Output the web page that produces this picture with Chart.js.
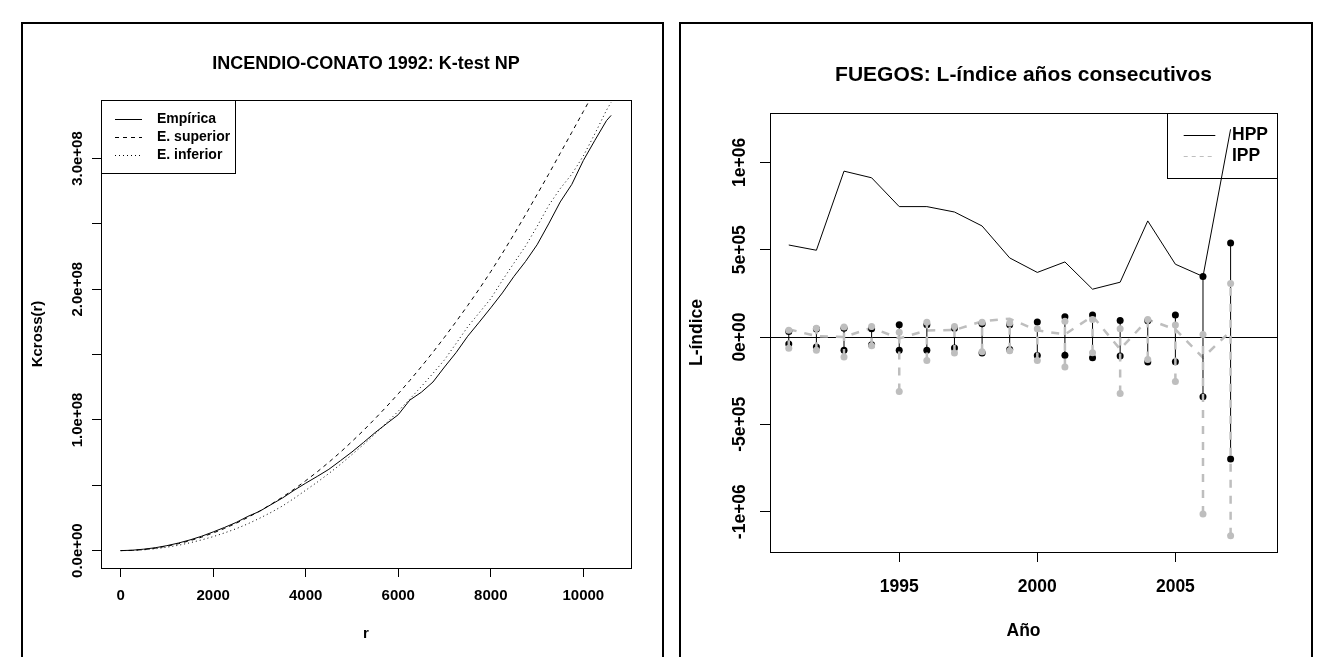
<!DOCTYPE html>
<html><head><meta charset="utf-8">
<script src="https://cdn.jsdelivr.net/npm/chart.js@4.4.1/dist/chart.umd.min.js"></script>
<style>
html,body{margin:0;padding:0;background:#fff;overflow:hidden;width:1330px;height:657px}
#c1{position:absolute;left:0;top:0}
#c2{position:absolute;left:665px;top:0}
.fig{position:absolute;border:2px solid #000;box-sizing:border-box}
</style></head><body>
<div class="fig" style="left:21px;top:22px;width:643px;height:700px"></div>
<div class="fig" style="left:679px;top:22px;width:634px;height:700px"></div>
<canvas id="c1" width="665" height="657"></canvas>
<canvas id="c2" width="665" height="657"></canvas>
<script>
// ---------- Left panel data (K-cross function) ----------
const rValues = [0,250,500,750,1000,1250,1500,1750,2000,2250,2500,2750,3000,3250,3500,3750,4000,4250,4500,4750,5000,5250,5500,5750,6000,6250,6500,6750,7000,7250,7500,7750,8000,8250,8500,8750,9000,9250,9500,9750,10000,10250,10500,10600];
const kEmpirica = [0,0.003e8,0.011e8,0.022e8,0.038e8,0.058e8,0.082e8,0.110e8,0.143e8,0.178e8,0.216e8,0.262e8,0.300e8,0.352e8,0.403e8,0.462e8,0.516e8,0.568e8,0.622e8,0.688e8,0.755e8,0.828e8,0.903e8,0.972e8,1.040e8,1.152e8,1.212e8,1.290e8,1.405e8,1.515e8,1.640e8,1.748e8,1.858e8,1.972e8,2.098e8,2.212e8,2.340e8,2.500e8,2.668e8,2.802e8,2.985e8,3.140e8,3.290e8,3.330e8];
const kSuperior = [0,0.002e8,0.008e8,0.019e8,0.034e8,0.053e8,0.076e8,0.103e8,0.135e8,0.170e8,0.210e8,0.254e8,0.302e8,0.354e8,0.410e8,0.470e8,0.535e8,0.603e8,0.676e8,0.753e8,0.835e8,0.920e8,1.010e8,1.103e8,1.200e8,1.302e8,1.408e8,1.518e8,1.633e8,1.752e8,1.875e8,2.002e8,2.135e8,2.275e8,2.420e8,2.570e8,2.725e8,2.880e8,3.040e8,3.200e8,3.360e8,3.520e8,3.680e8,3.750e8];
const kInferior = [0,0.001e8,0.006e8,0.014e8,0.026e8,0.041e8,0.060e8,0.082e8,0.107e8,0.136e8,0.168e8,0.205e8,0.247e8,0.292e8,0.342e8,0.400e8,0.462e8,0.524e8,0.590e8,0.660e8,0.735e8,0.812e8,0.893e8,0.978e8,1.067e8,1.160e8,1.256e8,1.356e8,1.460e8,1.585e8,1.712e8,1.820e8,1.928e8,2.068e8,2.200e8,2.330e8,2.480e8,2.640e8,2.770e8,2.880e8,3.020e8,3.190e8,3.370e8,3.430e8];
const leftXTicks = [0,2000,4000,6000,8000,10000];
const leftXTickLabels = ['0','2000','4000','6000','8000','10000'];
const leftYTicks = [0,0.5e8,1.0e8,1.5e8,2.0e8,2.5e8,3.0e8];
const leftYTickLabels = ['0.0e+00','','1.0e+08','','2.0e+08','','3.0e+08'];
const leftLegendLabels = ['Empírica','E. superior','E. inferior'];

// ---------- Right panel data (L-index by year) ----------
const years = [1991,1992,1993,1994,1995,1996,1997,1998,1999,2000,2001,2002,2003,2004,2005,2006,2007];
const hpp = [527000,497000,950000,912000,747000,747000,716000,636000,453000,370000,430000,274000,314000,665000,417000,347000,1190000];
const ipp = [45000,5000,0,53000,-8000,38000,40000,90000,105000,38000,15000,120000,-70000,100000,44000,-118000,34000];
const hppUpper = [32000,46000,51000,48000,70000,70000,51000,76000,70000,86000,116000,126000,95000,93000,126000,347000,538000];
const hppLower = [-40000,-57000,-76000,-44000,-76000,-76000,-63000,-91000,-72000,-105000,-104000,-118000,-109000,-143000,-141000,-342000,-698000];
const ippUpper = [39000,50000,57000,61000,27000,84000,61000,84000,80000,47000,91000,101000,48000,101000,69000,15000,306000];
const ippLower = [-64000,-75000,-114000,-50000,-312000,-135000,-91000,-84000,-78000,-135000,-172000,-90000,-324000,-128000,-255000,-1014000,-1138000];
const rightXTicks = [1995,2000,2005];
const rightXTickLabels = ['1995','2000','2005'];
const rightYTicks = [-1e6,-5e5,0,5e5,1e6];
const rightYTickLabels = ['-1e+06','-5e+05','0e+00','5e+05','1e+06'];
const rightLegendLabels = ['HPP','IPP'];

const FONT = "'Liberation Sans', Arial, Helvetica, sans-serif";
Chart.defaults.font.family = FONT;
Chart.defaults.font.weight = 'bold';
Chart.defaults.color = '#000';

const GREY = '#bebebe';

const framePlugin = {
  id: 'frame',
  afterDatasetsDraw(chart) {
    const a = chart.chartArea, c = chart.ctx;
    c.save();
    c.strokeStyle = '#000'; c.lineWidth = 1; c.setLineDash([]);
    const l = Math.round(a.left), t = Math.round(a.top), r = Math.round(a.right), b = Math.round(a.bottom);
    c.strokeRect(l + 0.5, t + 0.5, r - l, b - t);
    c.restore();
  }
};

function makeLegend(cfg) {
  return {
    id: 'rLegend' + cfg.name,
    afterDraw(chart) {
      const a = chart.chartArea, c = chart.ctx;
      const x0 = Math.round(cfg.corner === 'right' ? a.right - cfg.w : a.left);
      const y0 = Math.round(a.top);
      c.save();
      c.strokeStyle = '#000'; c.lineWidth = 1; c.setLineDash([]);
      c.strokeRect(x0 + 0.5, y0 + 0.5, cfg.w, cfg.h);
      c.font = 'bold ' + cfg.size + 'px ' + FONT;
      c.textBaseline = 'middle'; c.textAlign = 'left';
      cfg.items.forEach((it, i) => {
        const y = y0 + cfg.first + i * cfg.step;
        c.strokeStyle = it.color; c.lineWidth = it.width; c.setLineDash(it.dash);
        c.beginPath();
        c.moveTo(x0 + cfg.l1, Math.round(y) + 0.5);
        c.lineTo(x0 + cfg.l2, Math.round(y) + 0.5);
        c.stroke();
        c.setLineDash([]);
        c.fillStyle = '#000';
        c.fillText(it.label, x0 + cfg.tx, y);
      });
      c.restore();
    }
  };
}

function xy(xs, ys) { return xs.map((x, i) => ({x: x, y: ys[i]})); }

// ---------------- LEFT CHART ----------------
new Chart(document.getElementById('c1'), {
  type: 'line',
  data: {
    datasets: [
      {label: leftLegendLabels[0], data: xy(rValues, kEmpirica), borderColor: '#000', borderWidth: 1, pointRadius: 0, tension: 0, order: 0},
      {label: leftLegendLabels[1], data: xy(rValues, kSuperior), borderColor: '#000', borderWidth: 1, borderDash: [4, 4], pointRadius: 0, tension: 0, order: 1},
      {label: leftLegendLabels[2], data: xy(rValues, kInferior), borderColor: '#000', borderWidth: 1, borderDash: [1, 3], pointRadius: 0, tension: 0, order: 2}
    ]
  },
  options: {
    responsive: false, animation: false, events: [],
    layout: {padding: {left: 0, right: 34, top: 0, bottom: 0}},
    plugins: {
      legend: {display: false}, tooltip: {enabled: false},
      title: {display: true, fullSize: false, text: 'INCENDIO-CONATO 1992: K-test NP',
        font: {size: 18, weight: 'bold'}, color: '#000', padding: {top: 53.2, bottom: 25.2}}
    },
    scales: {
      x: {
        type: 'linear', min: -424, max: 11030,
        afterBuildTicks: s => { s.ticks = leftXTicks.map(v => ({value: v})); },
        afterFit: s => { s.height = 89; },
        ticks: {font: {size: 15, weight: 'bold'}, color: '#000', padding: 10, maxRotation: 0,
          callback: (v) => leftXTickLabels[leftXTicks.indexOf(v)]},
        grid: {display: true, drawOnChartArea: false, drawTicks: true, tickLength: 9, color: '#000', tickColor: '#000', lineWidth: 1},
        border: {display: false},
        title: {display: true, text: 'r', font: {size: 15, weight: 'bold'}, color: '#000', padding: {top: 0, bottom: 14}}
      },
      y: {
        type: 'linear', min: -0.133e8, max: 3.448e8,
        afterBuildTicks: s => { s.ticks = leftYTicks.map(v => ({value: v})); },
        afterFit: s => { s.width = 101; },
        ticks: {font: {size: 15, weight: 'bold'}, color: '#000', padding: -13.3, minRotation: 90, maxRotation: 90, crossAlign: 'center',
          callback: (v) => leftYTickLabels[leftYTicks.indexOf(v)]},
        grid: {display: true, drawOnChartArea: false, drawTicks: true, tickLength: 9, color: '#000', tickColor: '#000', lineWidth: 1},
        border: {display: false},
        title: {display: true, text: 'Kcross(r)', font: {size: 15, weight: 'bold'}, color: '#000', padding: {top: 29, bottom: 0}}
      }
    }
  },
  plugins: [framePlugin, makeLegend({
    name: 'L', corner: 'left', w: 134, h: 73, first: 19.3, step: 18, l1: 14, l2: 41, tx: 56, size: 14,
    items: [
      {label: leftLegendLabels[0], color: '#000', width: 1, dash: []},
      {label: leftLegendLabels[1], color: '#000', width: 1, dash: [4, 4]},
      {label: leftLegendLabels[2], color: '#000', width: 1, dash: [1, 3]}
    ]
  })]
});

// ---------------- RIGHT CHART ----------------
function stems(lo, hi) {
  const out = [];
  years.forEach((yr, i) => { out.push({x: yr, y: lo[i]}, {x: yr, y: hi[i]}, {x: yr, y: null}); });
  return out;
}
function ends(lo, hi) {
  const out = [];
  years.forEach((yr, i) => { out.push({x: yr, y: hi[i]}, {x: yr, y: lo[i]}); });
  return out;
}

new Chart(document.getElementById('c2'), {
  type: 'line',
  data: {
    datasets: [
      {label: 'HPP', data: xy(years, hpp), borderColor: '#000', borderWidth: 1, pointRadius: 0, tension: 0, order: 7},
      {label: 'IPP', data: xy(years, ipp), borderColor: GREY, borderWidth: 2.5, borderDash: [8, 8], pointRadius: 0, tension: 0, order: 6},
      {label: 'HPP env', data: stems(hppLower, hppUpper), borderColor: '#000', borderWidth: 1, pointRadius: 0, spanGaps: false, order: 4},
      {label: 'HPP env pts', data: ends(hppLower, hppUpper), showLine: false, pointRadius: 3.5, pointBackgroundColor: '#000', pointBorderWidth: 0, order: 3},
      {label: 'IPP env', data: stems(ippLower, ippUpper), borderColor: GREY, borderWidth: 2.5, borderDash: [8, 8], pointRadius: 0, spanGaps: false, order: 2},
      {label: 'IPP env pts', data: ends(ippLower, ippUpper), showLine: false, pointRadius: 3.5, pointBackgroundColor: GREY, pointBorderWidth: 0, order: 1}
    ]
  },
  options: {
    responsive: false, animation: false, events: [],
    layout: {padding: {left: 0, right: 53, top: 0, bottom: 0}},
    plugins: {
      legend: {display: false}, tooltip: {enabled: false},
      title: {display: true, fullSize: false, text: 'FUEGOS: L-índice años consecutivos',
        font: {size: 21, weight: 'bold'}, color: '#000', padding: {top: 63, bottom: 24.8}}
    },
    scales: {
      x: {
        type: 'linear', min: 1990.32, max: 2008.68,
        afterBuildTicks: s => { s.ticks = rightXTicks.map(v => ({value: v})); },
        afterFit: s => { s.height = 105; },
        ticks: {font: {size: 17.5, weight: 'bold'}, color: '#000', padding: 15, maxRotation: 0,
          callback: (v) => rightXTickLabels[rightXTicks.indexOf(v)]},
        grid: {display: true, drawOnChartArea: false, drawTicks: true, tickLength: 10, color: '#000', tickColor: '#000', lineWidth: 1},
        border: {display: false},
        title: {display: true, text: 'Año', font: {size: 17.5, weight: 'bold'}, color: '#000', padding: {top: 0, bottom: 15}}
      },
      y: {
        type: 'linear', min: -1.231e6, max: 1.283e6,
        afterBuildTicks: s => { s.ticks = rightYTicks.map(v => ({value: v})); },
        afterFit: s => { s.width = 105; },
        ticks: {font: {size: 17.5, weight: 'bold'}, color: '#000', padding: -7.5, minRotation: 90, maxRotation: 90, crossAlign: 'center',
          callback: (v) => rightYTickLabels[rightYTicks.indexOf(v)]},
        grid: {display: true, drawOnChartArea: true, drawTicks: true, tickLength: 10,
          color: (ctx) => (ctx.tick && ctx.tick.value === 0) ? '#000' : 'rgba(0,0,0,0)', tickColor: '#000', lineWidth: 1},
        border: {display: false},
        title: {display: true, text: 'L-índice', font: {size: 17.5, weight: 'bold'}, color: '#000', padding: {top: 21.5, bottom: 0}}
      }
    }
  },
  plugins: [framePlugin, makeLegend({
    name: 'R', corner: 'right', w: 110, h: 65, first: 21.7, step: 21.6, l1: 16.7, l2: 48.3, tx: 65, size: 17.5,
    items: [
      {label: rightLegendLabels[0], color: '#000', width: 1, dash: []},
      {label: rightLegendLabels[1], color: GREY, width: 1, dash: [4, 4]}
    ]
  })]
});
</script>
</body></html>
